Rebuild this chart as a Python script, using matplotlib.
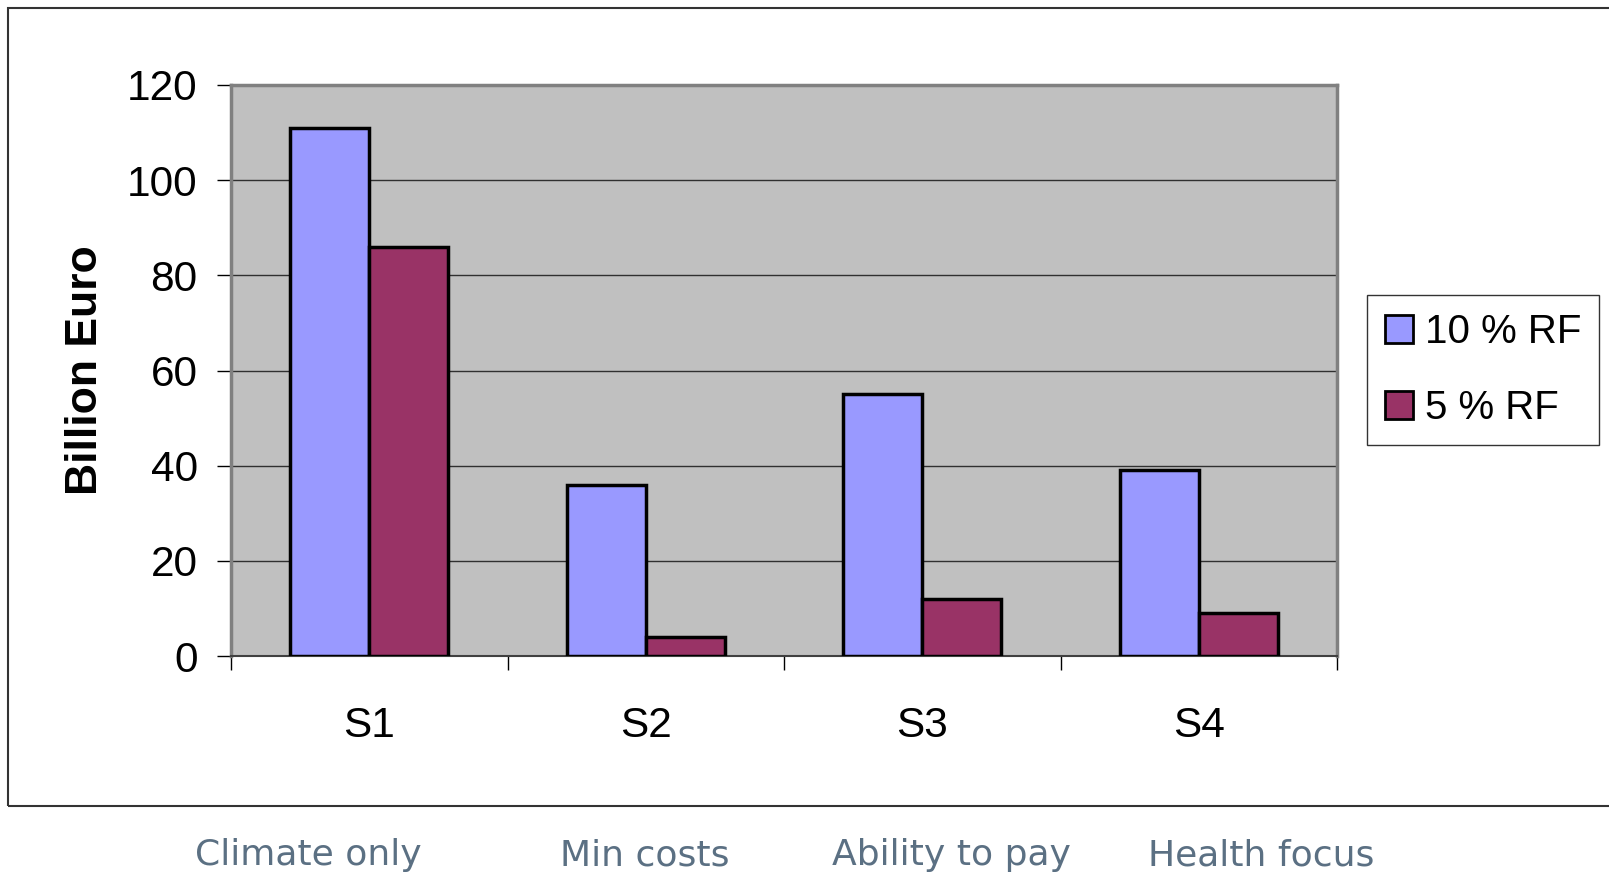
import numpy as np
import matplotlib
matplotlib.use("Agg")
import matplotlib.pyplot as plt
from matplotlib.patches import Rectangle

# data
scenarios = ["S1", "S2", "S3", "S4"]
focus_labels = ["Climate only", "Min costs", "Ability to pay", "Health focus"]
rf_10 = [111, 36, 55, 39]
rf_5 = [86, 4, 12, 9]
series_names = ["10 % RF", "5 % RF"]

W, H = 1609, 875
fig = plt.figure(figsize=(W / 100, H / 100), dpi=100)
plt.rcParams['font.family'] = ['Liberation Sans', 'DejaVu Sans']

ax = fig.add_axes([231 / W, 1 - 656 / H, 1106 / W, 571 / H])
ax.set_facecolor("#C0C0C0")

x = np.arange(len(scenarios))
w = 1 / 3.5
ax.bar(x - w / 2, rf_10, w, color="#9999FF", edgecolor="black", linewidth=2.5,
       label=series_names[0], zorder=3)
ax.bar(x + w / 2, rf_5, w, color="#993366", edgecolor="black", linewidth=2.5,
       label=series_names[1], zorder=3)

ax.set_ylim(0, 120)
ax.set_xlim(-0.5, len(scenarios) - 0.5)
ax.set_yticks(range(0, 121, 20))
ax.tick_params(axis="y", labelsize=30.5, direction="out", length=10, width=1, pad=14)
ax.set_xticks(x)
ax.set_xticklabels(scenarios)
ax.tick_params(axis="x", which="major", labelsize=30.5, length=0, pad=36)
ax.set_xticks(np.arange(-0.5, len(scenarios), 1), minor=True)
ax.tick_params(axis="x", which="minor", direction="out", length=10, width=1)

for yv in range(20, 120, 20):
    ax.axhline(yv, color="#303030", lw=1, zorder=1)

for side in ["top", "right", "left"]:
    ax.spines[side].set_color("#808080")
    ax.spines[side].set_linewidth(2.5)
ax.spines["bottom"].set_color("#404040")
ax.spines["bottom"].set_linewidth(1.5)

ax.set_ylabel("Billion Euro", fontsize=32, fontweight="bold")
ax.yaxis.set_label_coords(-0.113, 0.5)

leg = fig.legend(loc="center", bbox_to_anchor=(1483 / W, 1 - 370 / H),
                 fontsize=29, frameon=True, fancybox=False, edgecolor="black",
                 handlelength=0.7, handleheight=0.7, handletextpad=0.3,
                 borderpad=0.45, labelspacing=0.95)
leg.get_frame().set_linewidth(1)
for h in leg.legend_handles:
    h.set_linewidth(2)

# outer chart frame
fig.add_artist(Rectangle((8 / W, 1 - 806 / H), 1.2, 798 / H, transform=fig.transFigure,
                         fill=False, edgecolor="#333333", lw=1.5, clip_on=False))

label_x = [308, 645, 951, 1261]
for lx, txt in zip(label_x, focus_labels):
    fig.text(lx / W, 1 - 855 / H, txt, ha="center", va="center", fontsize=26,
             color="#5B7083", family="DejaVu Sans")

fig.savefig("out.png", dpi=100)
